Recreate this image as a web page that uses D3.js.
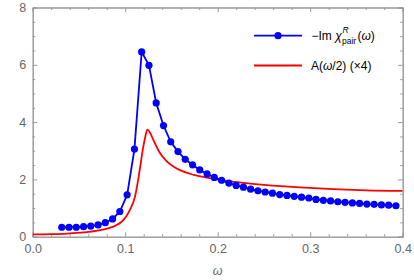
<!DOCTYPE html>
<html>
<head>
<meta charset="utf-8">
<script src="https://cdn.jsdelivr.net/npm/d3@7"></script>
<style>
  body { margin: 0; background: #fff; }
  svg { display: block; }
  text { font-family: "Liberation Sans", Arial, sans-serif; }
</style>
</head>
<body>
<svg id="chart" width="414" height="280"></svg>
<script>
// -Im chi^R_pair(omega), sampled points
const pairOmega = [0.0314, 0.0393, 0.0471, 0.0550, 0.0628, 0.0707, 0.0785, 0.0864, 0.0942, 0.1021,
  0.1100, 0.1178, 0.1257, 0.1335, 0.1414, 0.1492, 0.1571, 0.1649, 0.1728, 0.1806,
  0.1885, 0.1963, 0.2042, 0.2121, 0.2199, 0.2278, 0.2356, 0.2435, 0.2513, 0.2592,
  0.2670, 0.2749, 0.2827, 0.2906, 0.2985, 0.3063, 0.3142, 0.3220, 0.3299, 0.3377,
  0.3456, 0.3534, 0.3613, 0.3691, 0.3770, 0.3848, 0.3927];
const pairValues = [0.33, 0.33, 0.33, 0.35, 0.37, 0.41, 0.49, 0.62, 0.88, 1.46,
  3.06, 6.45, 5.98, 4.67, 3.88, 3.31, 2.97, 2.70, 2.51, 2.33,
  2.19, 2.07, 1.97, 1.87, 1.79, 1.73, 1.66, 1.60, 1.56, 1.52,
  1.47, 1.44, 1.41, 1.38, 1.35, 1.30, 1.27, 1.25, 1.22, 1.20,
  1.18, 1.16, 1.14, 1.13, 1.11, 1.10, 1.08];

// A(omega/2) x4
const specOmega = [0, 0.02, 0.037, 0.055, 0.073, 0.087, 0.098, 0.105, 0.1106, 0.114,
  0.1168, 0.1196, 0.1218, 0.124, 0.127, 0.1304, 0.137, 0.145, 0.152, 0.163,
  0.174, 0.188, 0.199, 0.21, 0.228, 0.253, 0.289, 0.325, 0.361, 0.4];
const specValues = [0.08, 0.09, 0.11, 0.15, 0.23, 0.35, 0.58, 0.93, 1.40, 1.98,
  2.57, 3.15, 3.50, 3.74, 3.62, 3.38, 2.95, 2.63, 2.45, 2.27,
  2.16, 2.06, 2.00, 1.95, 1.88, 1.80, 1.72, 1.66, 1.62, 1.60];

const xMajor = [0, 0.1, 0.2, 0.3, 0.4];
const xLabels = ["0.0", "0.1", "0.2", "0.3", "0.4"];
const yMajor = [0, 2, 4, 6, 8];
const yLabels = ["0", "2", "4", "6", "8"];

const W = 414, H = 280;
const margin = { top: 7.5, right: 11.3, bottom: 43.3, left: 32.7 };
const frameColor = '#999999';
const labelColor = '#666666';

const svg = d3.select('#chart');

const x = d3.scaleLinear().domain([0, 0.4]).range([margin.left, W - margin.right]);
const y = d3.scaleLinear().domain([0, 8]).range([H - margin.bottom, margin.top]);

const xMinor = d3.range(0, 0.4001, 0.02).filter(v => !xMajor.some(m => Math.abs(m - v) < 1e-6));
const yMinor = d3.range(0, 8.001, 0.5).filter(v => !yMajor.some(m => Math.abs(m - v) < 1e-6));

svg.append('defs').append('clipPath').attr('id', 'plotClip')
  .append('rect')
  .attr('x', margin.left).attr('y', margin.top)
  .attr('width', W - margin.left - margin.right)
  .attr('height', H - margin.top - margin.bottom);

// axes with inward ticks on all four sides
function drawAxis(axis, transform, labels) {
  const g = svg.append('g').attr('transform', transform).call(axis);
  g.select('.domain').attr('stroke', frameColor).attr('stroke-width', 1);
  g.selectAll('.tick line').attr('stroke', frameColor);
  g.selectAll('.tick text')
    .attr('fill', labelColor)
    .style('font-size', '12.5px');
  if (!labels) g.selectAll('.tick text').remove();
  return g;
}

const bottomY = H - margin.bottom, topY = margin.top;
const leftX = margin.left, rightX = W - margin.right;

// minor ticks first
[[d3.axisBottom(x).tickValues(xMinor).tickSize(-2.5).tickFormat(''), `translate(0,${bottomY})`],
 [d3.axisTop(x).tickValues(xMinor).tickSize(-2.5).tickFormat(''), `translate(0,${topY})`],
 [d3.axisLeft(y).tickValues(yMinor).tickSize(-2.5).tickFormat(''), `translate(${leftX},0)`],
 [d3.axisRight(y).tickValues(yMinor).tickSize(-2.5).tickFormat(''), `translate(${rightX},0)`]
].forEach(([a, t]) => drawAxis(a, t, false));

drawAxis(d3.axisBottom(x).tickValues(xMajor).tickSize(-4.5).tickPadding(7)
  .tickFormat((d, i) => xLabels[i]), `translate(0,${bottomY})`, true);
drawAxis(d3.axisTop(x).tickValues(xMajor).tickSize(-4.5), `translate(0,${topY})`, false);
drawAxis(d3.axisLeft(y).tickValues(yMajor).tickSize(-4.5).tickPadding(6.5)
  .tickFormat((d, i) => yLabels[i]), `translate(${leftX},0)`, true);
drawAxis(d3.axisRight(y).tickValues(yMajor).tickSize(-4.5), `translate(${rightX},0)`, false);

// axis label
svg.append('text')
  .attr('x', (leftX + rightX) / 2)
  .attr('y', 275)
  .attr('text-anchor', 'middle')
  .attr('fill', labelColor)
  .style('font-size', '12.5px')
  .style('font-style', 'italic')
  .text('ω');

const plot = svg.append('g').attr('clip-path', 'url(#plotClip)');

// red curve
const specData = specOmega.map((w, i) => [w, specValues[i]]);
plot.append('path')
  .datum(specData)
  .attr('fill', 'none')
  .attr('stroke', '#ff0000')
  .attr('stroke-width', 1.8)
  .attr('d', d3.line().x(d => x(d[0])).y(d => y(d[1])).curve(d3.curveMonotoneX));

// blue joined points
const pairData = pairOmega.map((w, i) => [w, pairValues[i]]);
plot.append('path')
  .datum(pairData)
  .attr('fill', 'none')
  .attr('stroke', '#0000ff')
  .attr('stroke-width', 1.8)
  .attr('d', d3.line().x(d => x(d[0])).y(d => y(d[1])));

plot.selectAll('.pt')
  .data(pairData)
  .enter()
  .append('circle')
  .attr('class', 'pt')
  .attr('cx', d => x(d[0]))
  .attr('cy', d => y(d[1]))
  .attr('r', 3.6)
  .attr('fill', '#0000ff');

// legend
const legend = svg.append('g');
legend.append('line')
  .attr('x1', 254).attr('x2', 302).attr('y1', 35.7).attr('y2', 35.7)
  .attr('stroke', '#0000ff').attr('stroke-width', 1.8);
legend.append('circle')
  .attr('cx', 278).attr('cy', 35.7).attr('r', 3.6).attr('fill', '#0000ff');
legend.append('line')
  .attr('x1', 254).attr('x2', 302).attr('y1', 65.5).attr('y2', 65.5)
  .attr('stroke', '#ff0000').attr('stroke-width', 1.8);

const t1 = legend.append('text')
  .attr('x', 311.5).attr('y', 40)
  .style('font-size', '12px')
  .attr('fill', '#000');
t1.append('tspan').text('−Im ');
t1.append('tspan').style('font-style', 'italic').text('χ');
const w1 = t1.node().getComputedTextLength();
legend.append('text')
  .attr('x', 311.5 + w1 + 0.8).attr('y', 33)
  .style('font-size', '8.5px').style('font-style', 'italic')
  .text('R');
const sub = legend.append('text')
  .attr('x', 311.5 + w1 + 0.3).attr('y', 43.5)
  .style('font-size', '8.5px')
  .text('pair');
const wSub = sub.node().getComputedTextLength();
const t1b = legend.append('text')
  .attr('x', 311.5 + w1 + wSub + 1.5).attr('y', 40)
  .style('font-size', '12px');
t1b.append('tspan').text('(');
t1b.append('tspan').style('font-style', 'italic').text('ω');
t1b.append('tspan').text(')');

const t2 = legend.append('text')
  .attr('x', 311).attr('y', 70)
  .style('font-size', '12px');
t2.append('tspan').text('A(');
t2.append('tspan').style('font-style', 'italic').text('ω');
t2.append('tspan').text('/2) (×4)');
</script>
</body>
</html>
